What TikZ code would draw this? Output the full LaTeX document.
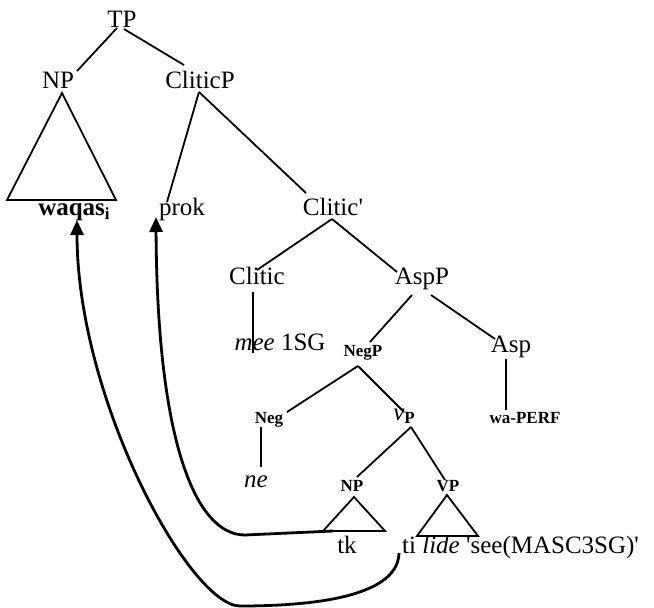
\documentclass[tikz,border=0pt]{standalone}
\usepackage{fontspec}
\setmainfont{Liberation Serif}[Ligatures=TeXOff]
\usetikzlibrary{arrows.meta}
\begin{document}
\begin{tikzpicture}[x=1pt,y=-1pt,
  lbl/.style={font=\fontsize{25}{30}\selectfont, inner sep=0pt, anchor=base},
  sml/.style={font=\fontsize{17}{20}\selectfont\bfseries, inner sep=0pt, anchor=base},
  edge/.style={line width=1.8pt},
  tri/.style={line width=1.8pt, line join=miter},
  mv/.style={line width=2.8pt, -{Triangle[width=13pt,length=15pt]}}]
\useasboundingbox (0,0) rectangle (654,608);

% nodes
\node[lbl] (TP) at (122,27) {TP};
\node[lbl] (NP) at (58,88) {NP};
\node[lbl] (CP) at (200,88) {CliticP};
\node[lbl] (waqas) at (74,215) {\textbf{waqas\raisebox{-4pt}{\fontsize{17}{20}\selectfont i}}};
\node[lbl] (prok) at (182,215) {prok};
\node[lbl] (Cbar) at (333,215) {Clitic'};
\node[lbl] (Clitic) at (257,284) {Clitic};
\node[lbl] (AspP) at (422,284) {AspP};
\node[lbl] (mee) at (280,350) {\textit{mee} 1SG};
\node[sml] (NegP) at (363,356) {NegP};
\node[lbl] (Asp) at (511,352) {Asp};
\node[sml] (waPERF) at (525,423) {wa-PERF};
\node[sml] (Neg) at (269,423) {Neg};
\node[lbl] (vP) at (404,420) {\textit{v}\raisebox{-3pt}{\fontsize{17}{20}\selectfont\bfseries P}};
\node[lbl] (ne) at (256,487) {\textit{ne}};
\node[sml] (NPs) at (352,491) {NP};
\node[sml] (VPs) at (448,491) {VP};
\node[lbl] (tk) at (347,553) {tk};
\node[lbl, anchor=base west] (ti) at (402,553) {ti \textit{lide} 'see(MASC3SG)'};

% tree edges
\draw[edge] ([shift={(-5,1)}]TP.base) -- ([shift={(19,-17)}]NP.base);
\draw[edge] ([shift={(2,2)}]TP.base) -- ([shift={(-16,-23)}]CP.base);
\draw[edge] ([shift={(-1,4)}]CP.base) -- ([shift={(-15,-13)}]prok.base);
\draw[edge] ([shift={(-1,4)}]CP.base) -- ([shift={(-27,-22)}]Cbar.base);
\draw[edge] ([shift={(-1,4)}]Cbar.base) -- ([shift={(0,-14)}]Clitic.base);
\draw[edge] ([shift={(-1,4)}]Cbar.base) -- ([shift={(-25,-12)}]AspP.base);
\draw[edge] ([shift={(-4,8)}]Clitic.base) -- ([shift={(-27,3)}]mee.base);
\draw[edge] ([shift={(-10,11)}]AspP.base) -- ([shift={(7,-14)}]NegP.base);
\draw[edge] ([shift={(9,11)}]AspP.base) -- ([shift={(-16,-13)}]Asp.base);
\draw[edge] ([shift={(-5,7)}]Asp.base) -- ([shift={(-19,-13)}]waPERF.base);
\draw[edge] ([shift={(-5,10)}]NegP.base) -- ([shift={(18,-11)}]Neg.base);
\draw[edge] ([shift={(-5,10)}]NegP.base) -- ([shift={(0,-8)}]vP.base);
\draw[edge] ([shift={(-8,4)}]Neg.base) -- ([shift={(5,-20)}]ne.base);
\draw[edge] ([shift={(7,7)}]vP.base) -- ([shift={(5,-14)}]NPs.base);
\draw[edge] ([shift={(7,7)}]vP.base) -- ([shift={(-3,-11)}]VPs.base);

% triangles
\draw[tri] ([shift={(4,5)}]NP.base) -- ([shift={(-51,112)}]NP.base) -- ([shift={(58,112)}]NP.base) -- cycle;
\draw[tri] ([shift={(2,6)}]NPs.base) -- ([shift={(-29,40)}]NPs.base) -- ([shift={(33,40)}]NPs.base) -- cycle;
\draw[tri] ([shift={(-1,4)}]VPs.base) -- ([shift={(-31,45)}]VPs.base) -- ([shift={(30,45)}]VPs.base) -- cycle;

% movement arrows
\draw[mv] ([shift={(-19,40)}]NPs.base) -- (245,535) .. controls (195,535) and (157,440) .. ([shift={(-26,2)}]prok.base);
\draw[mv] ([shift={(-3,0)}]ti.base west) .. controls (398,600) and (300,606) .. (240,606) .. controls (190,606) and (77,400) .. ([shift={(3,5)}]waqas.base);
\end{tikzpicture}
\end{document}
